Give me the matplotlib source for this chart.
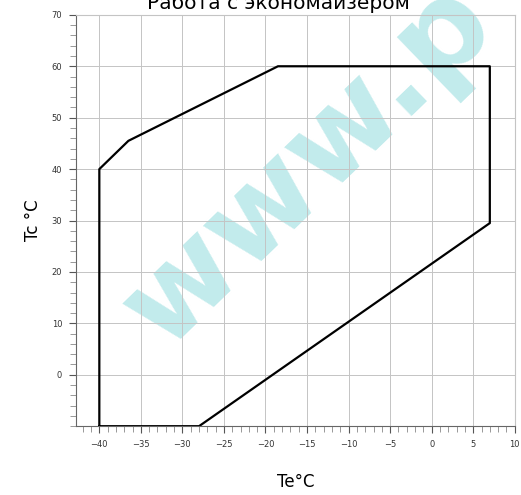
import matplotlib
matplotlib.use("Agg")
import matplotlib.pyplot as plt
from matplotlib.ticker import MultipleLocator

# envelope of the operating region (Te, Tc)
te = [-40, -40, -36.5, -18.5, 7, 7, -28, -40]
tc = [-10, 40, 45.5, 60, 60, 29.5, -10, -10]

x_ticks = [-40, -35, -30, -25, -20, -15, -10, -5, 0, 5, 10]
y_ticks = [0, 10, 20, 30, 40, 50, 60, 70]

fig = plt.figure(figsize=(5.21, 4.95), dpi=100)
ax = fig.add_axes([0.146, 0.139, 0.842, 0.831])

# watermark behind the grid
fig.text(0.316, 0.291, "www.p", fontsize=88, fontweight='bold',
         family='DejaVu Sans', color='#c2ebec', rotation=44,
         rotation_mode='anchor', ha='left', va='baseline', zorder=-1)
ax.set_facecolor('none')

ax.plot(te, tc, color='black', lw=1.6, zorder=3)

ax.set_xlim(-42.8, 10)
ax.set_ylim(-10, 70)
ax.set_xticks(x_ticks)
ax.set_yticks(y_ticks)
ax.xaxis.set_minor_locator(MultipleLocator(1))
ax.yaxis.set_minor_locator(MultipleLocator(2))
ax.tick_params(axis='both', which='major', labelsize=6, colors='#555555',
               labelcolor='#333333', length=5, pad=5)
ax.tick_params(axis='both', which='minor', colors='#888888', length=4)
ax.grid(True, which='major', color='#c4c4c4', lw=0.7)

for s in ['top', 'right']:
    ax.spines[s].set_color('#c4c4c4')
for s in ['left', 'bottom']:
    ax.spines[s].set_color('#666666')

fig.text(0.534, 0.994, "Работа с экономайзером", fontsize=14.5, ha='center',
         va='center', color='black')
ax.set_xlabel("Te°C", fontsize=12, labelpad=17)
ax.set_ylabel("Tc °C", fontsize=12, labelpad=7)

fig.savefig("out.png", dpi=100)
